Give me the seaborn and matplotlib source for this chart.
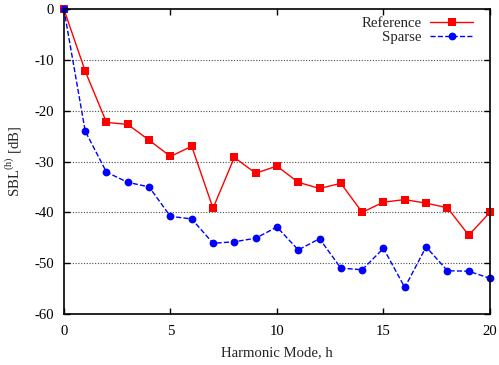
import numpy as np
import pandas as pd
import matplotlib
matplotlib.use("Agg")
import matplotlib.pyplot as plt
import seaborn as sns

# Harmonic mode index
harmonics = list(range(21))

# SBL values [dB]
reference_sbl = [0.0, -12.2, -22.3, -22.7, -25.8, -29.0, -27.0, -39.2, -29.2, -32.3,
                 -30.9, -34.1, -35.3, -34.3, -40.0, -38.0, -37.5, -38.2, -39.1, -44.5, -40.0]
sparse_sbl = [0.0, -24.0, -32.1, -34.1, -35.0, -40.8, -41.3, -46.1, -45.8, -45.1,
              -42.9, -47.4, -45.2, -51.0, -51.3, -47.1, -54.8, -46.8, -51.5, -51.6, -53.0]

x_ticks = [0, 5, 10, 15, 20]
y_ticks = [0, -10, -20, -30, -40, -50, -60]

sns.set_style("ticks")
plt.rcParams['font.family'] = ['Liberation Serif', 'DejaVu Serif']
plt.rcParams['mathtext.fontset'] = 'custom'
plt.rcParams['mathtext.rm'] = 'Liberation Serif'
plt.rcParams['axes.unicode_minus'] = False
fs = 10.6

df = pd.DataFrame({"h": harmonics, "Reference": reference_sbl, "Sparse": sparse_sbl})

fig = plt.figure(figsize=(4.99, 3.65), dpi=100)
ax = fig.add_axes([0.128, 0.140, 0.854, 0.835])

sns.lineplot(data=df, x="h", y="Reference", ax=ax, color="red", marker="s",
             markersize=5.2, markeredgewidth=0, linewidth=1.0, label="Reference")
sns.lineplot(data=df, x="h", y="Sparse", ax=ax, color="blue", marker="o",
             markersize=5.6, markeredgewidth=0, linewidth=1.0, linestyle="--",
             dashes=(3, 2), label="Sparse")

ax.set_xlim(0, 20)
ax.set_ylim(-60, 0)
ax.set_xticks(x_ticks)
ax.set_yticks(y_ticks)
ax.set_xlabel("Harmonic Mode, h", fontsize=fs, labelpad=6)
ax.set_ylabel(r"SBL$^{\mathrm{(h)}}$ [dB]", fontsize=fs, labelpad=8)

# dotted horizontal grid lines like gnuplot
for yv in y_ticks[1:-1]:
    ax.axhline(yv, color="0.3", linestyle=(0, (1, 1.5)), linewidth=0.8, zorder=0)

ax.tick_params(direction="in", top=True, right=True, length=4, width=1,
               labelsize=fs, colors="black")
ax.tick_params(axis="x", pad=8)
ax.tick_params(axis="y", pad=7)
for s in ax.spines.values():
    s.set_visible(True)
    s.set_linewidth(1.2)
    s.set_color("black")
for line in ax.lines:
    line.set_clip_on(False)

leg = ax.legend(loc="upper right", bbox_to_anchor=(0.977, 1.0), frameon=False,
                markerfirst=False, handlelength=2.9, fontsize=fs, borderaxespad=0.1,
                labelspacing=0.05, handletextpad=0.6)

fig.savefig("out.png", dpi=100)
